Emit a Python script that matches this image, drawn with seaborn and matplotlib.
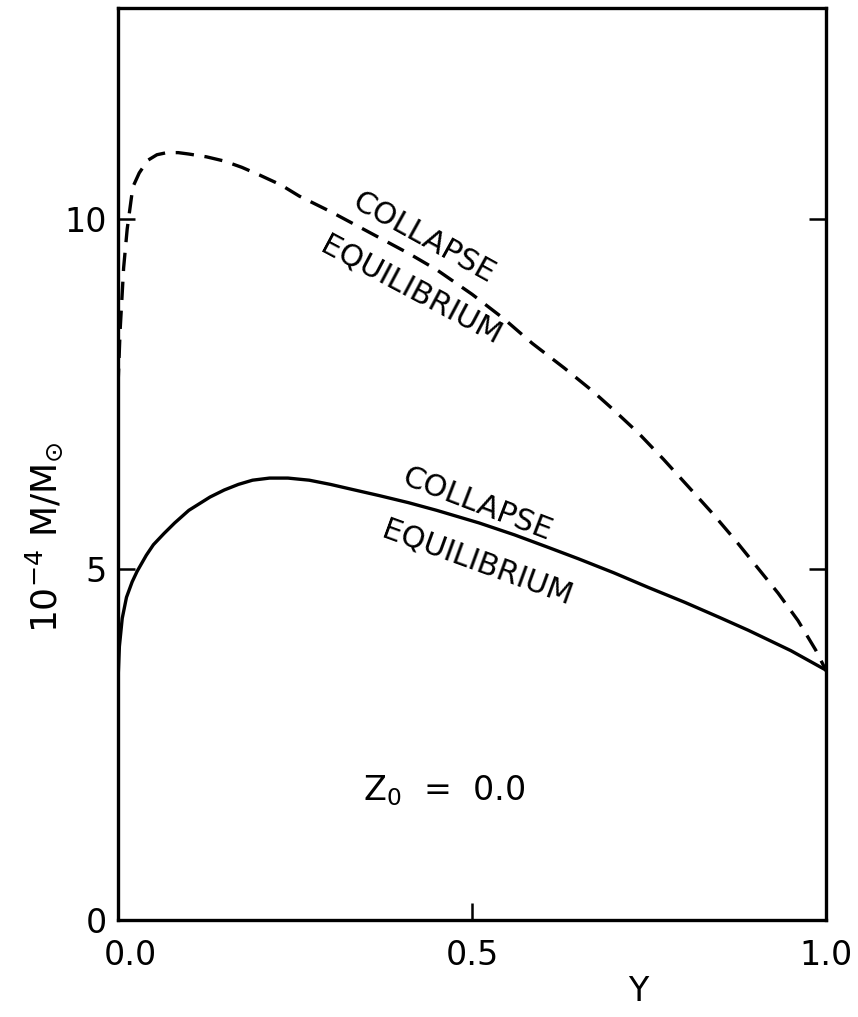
import matplotlib
matplotlib.use("Agg")
import matplotlib.pyplot as plt
import matplotlib.transforms as mtransforms
import seaborn as sns
import pandas as pd

# Collapse / equilibrium mass limits versus helium fraction Y, Z0 = 0.0
y_dashed = [0.0, 0.003, 0.008, 0.013, 0.021, 0.03, 0.042, 0.055, 0.069, 0.085,
            0.10, 0.125, 0.15, 0.175, 0.20, 0.23, 0.256, 0.30, 0.35, 0.411,
            0.45, 0.50, 0.545, 0.585, 0.63, 0.669, 0.70, 0.735, 0.77, 0.806,
            0.84, 0.872, 0.90, 0.932, 0.96, 0.985, 1.0]
m_dashed = [7.6, 8.4, 9.3, 9.85, 10.45, 10.65, 10.83, 10.91, 10.94, 10.94,
            10.92, 10.88, 10.82, 10.73, 10.62, 10.48, 10.32, 10.10, 9.83, 9.50,
            9.27, 8.92, 8.57, 8.22, 7.87, 7.55, 7.27, 6.94, 6.57, 6.17,
            5.79, 5.41, 5.06, 4.66, 4.27, 3.85, 3.55]

y_solid = [0.0, 0.002, 0.006, 0.012, 0.02, 0.027, 0.04, 0.05, 0.065, 0.08,
           0.10, 0.13, 0.15, 0.17, 0.19, 0.214, 0.24, 0.27, 0.30, 0.33,
           0.369, 0.41, 0.45, 0.51, 0.56, 0.608, 0.65, 0.70, 0.749, 0.80,
           0.85, 0.89, 0.95, 1.0]
m_solid = [3.4, 3.9, 4.3, 4.6, 4.82, 4.97, 5.2, 5.35, 5.51, 5.66,
           5.84, 6.03, 6.13, 6.21, 6.27, 6.30, 6.30, 6.27, 6.21, 6.14,
           6.05, 5.95, 5.84, 5.66, 5.49, 5.31, 5.15, 4.95, 4.74, 4.53,
           4.31, 4.13, 3.84, 3.56]

x_ticks = [0.0, 0.5, 1.0]
x_ticklabels = ["0.0", "0.5", "1.0"]
y_ticks = [0, 5, 10]
y_ticklabels = ["0", "5", "10"]

sns.set_style("ticks")
plt.rcParams["font.family"] = ["DejaVu Sans"]
plt.rcParams["mathtext.default"] = "regular"
plt.rcParams["text.color"] = "black"
plt.rcParams["axes.labelcolor"] = "black"

fig = plt.figure(figsize=(8.58, 10.17), dpi=100)
ax = fig.add_axes([0.1375, 0.0954, 0.8255, 0.8966])

df_d = pd.DataFrame({"Y": y_dashed, "M": m_dashed})
df_s = pd.DataFrame({"Y": y_solid, "M": m_solid})

sns.lineplot(data=df_d, x="Y", y="M", ax=ax, color="black", lw=2.4,
             linestyle=(0, (5.5, 3.2)), sort=False, estimator=None)
sns.lineplot(data=df_s, x="Y", y="M", ax=ax, color="black", lw=2.4,
             sort=False, estimator=None)

ax.set_xlim(0, 1.0)
ax.set_ylim(0, 13.0)
ax.set_xticks(x_ticks)
ax.set_xticklabels(x_ticklabels)
ax.set_yticks(y_ticks)
ax.set_yticklabels(y_ticklabels)
ax.tick_params(direction="in", length=12, width=1.8, labelsize=24,
               right=True, colors="black")
ax.tick_params(axis="x", pad=14)
ax.tick_params(axis="y", pad=8)

# nudge the first x label clear of the "0" on the y axis
lbl0 = ax.get_xticklabels()[0]
lbl0.set_transform(lbl0.get_transform() +
                   mtransforms.ScaledTranslation(12 / 100, 0, fig.dpi_scale_trans))

for sp in ax.spines.values():
    sp.set_visible(True)
    sp.set_linewidth(2.4)
    sp.set_color("black")

ax.set_xlabel("Y", fontsize=24)
ax.xaxis.set_label_coords(0.735, -0.06)
ax.set_ylabel(r"10$^{-4}$ M/M$_{\odot}$", fontsize=26)
ax.yaxis.set_label_coords(-0.075, 0.42)

# curve annotations
ax.text(0.432, 9.73, "COLLAPSE", fontsize=22, rotation=-29,
        ha="center", va="center", rotation_mode="anchor")
ax.text(0.414, 8.97, "EQUILIBRIUM", fontsize=22, rotation=-28,
        ha="center", va="center", rotation_mode="anchor")
ax.text(0.507, 5.93, "COLLAPSE", fontsize=22, rotation=-21,
        ha="center", va="center", rotation_mode="anchor")
ax.text(0.507, 5.09, "EQUILIBRIUM", fontsize=22, rotation=-20,
        ha="center", va="center", rotation_mode="anchor")
ax.text(0.46, 1.85, r"Z$_{0}$  =  0.0", fontsize=24, ha="center", va="center")

fig.savefig("out.png", dpi=100, facecolor="white")
